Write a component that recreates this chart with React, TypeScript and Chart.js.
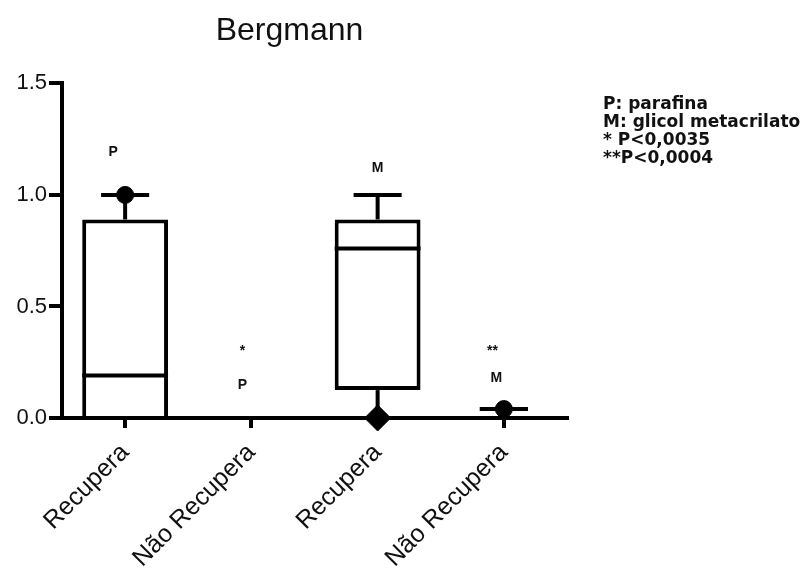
import React, { useEffect, useRef } from 'react';
import { Chart, registerables } from 'chart.js';

Chart.register(...registerables);

// ---- data ----
const categories = ['Recupera', 'Não Recupera', 'Recupera', 'Não Recupera'];
const whiskerLow = [0, 0, 0, 0.04];
const q1 = [0, 0, 0.125, 0.04];
const median = [0.19, 0, 0.76, 0.04];
const q3 = [0.89, 0, 0.89, 0.04];
const whiskerHigh = [1.0, 0, 1.0, 0.04];
const circleMarks = [1.0, null, null, 0.04];
const diamondMarks = [null, null, 0, null];
const yTickValues = [0, 0.5, 1.0, 1.5];

const noteText = ['P', '*', 'P', 'M', '**', 'M'];
const noteCategory = [0, 1, 1, 2, 3, 3];
const noteValue = [1.19, 0.3, 0.148, 1.12, 0.3, 0.18];
const legendLines = ['P: parafina', 'M: glicol metacrilato', '* P<0,0035', '**P<0,0004'];

const FONT = "'Liberation Sans', Arial, sans-serif";

const boxPlugin = {
  id: 'boxWhiskers',
  afterDatasetDraw(chart: any, args: any) {
    if (args.index !== 0) return;
    const { ctx } = chart;
    const y = chart.scales.y;
    const meta = chart.getDatasetMeta(0);
    ctx.save();
    ctx.strokeStyle = '#000';
    ctx.lineWidth = 4;
    ctx.lineCap = 'butt';
    const line = (x1: number, y1: number, x2: number, y2: number) => {
      ctx.beginPath();
      ctx.moveTo(x1, y1);
      ctx.lineTo(x2, y2);
      ctx.stroke();
    };
    meta.data.forEach((bar: any, i: number) => {
      const x = bar.x;
      const half = bar.width / 2;
      const capHalf = bar.width * 0.28;
      const yMed = y.getPixelForValue(median[i]);
      if (q3[i] > q1[i]) line(x - half, yMed, x + half, yMed);
      const yQ3 = y.getPixelForValue(q3[i]);
      const yHi = y.getPixelForValue(whiskerHigh[i]);
      line(x, yQ3, x, yHi);
      line(x - capHalf, yHi, x + capHalf, yHi);
      const yQ1 = y.getPixelForValue(q1[i]);
      const yLo = y.getPixelForValue(whiskerLow[i]);
      line(x, yQ1, x, yLo);
      line(x - capHalf, yLo, x + capHalf, yLo);
    });
    ctx.restore();
  },
};

const notesPlugin = {
  id: 'notes',
  afterDraw(chart: any, _args: any, opts: any) {
    const { ctx, chartArea } = chart;
    const x = chart.scales.x;
    const y = chart.scales.y;
    ctx.save();
    ctx.fillStyle = '#111';
    ctx.textAlign = 'center';
    ctx.textBaseline = 'middle';
    ctx.font = `bold 14px ${FONT}`;
    noteText.forEach((t, i) => {
      const px = x.getPixelForValue(noteCategory[i] + opts.shift[i]);
      const py = y.getPixelForValue(noteValue[i]);
      ctx.fillText(t, px, py);
    });
    ctx.textAlign = 'left';
    ctx.font = `bold 17px 'DejaVu Sans', ${FONT}`;
    legendLines.forEach((t, i) => {
      ctx.fillText(t, chartArea.right + 36, chartArea.top + 21 + i * 18);
    });
    ctx.restore();
  },
};

export default function App() {
  const ref = useRef<HTMLCanvasElement>(null);
  useEffect(() => {
    if (!ref.current) return;
    const chart = new Chart(ref.current, {
      type: 'bar',
      data: {
        labels: categories,
        datasets: [
          {
            type: 'bar',
            data: categories.map((_, i) => [q1[i], q3[i]]) as any,
            backgroundColor: '#fff',
            borderColor: '#000',
            borderWidth: 4,
            borderSkipped: ((c: any) => (q1[c.dataIndex] === 0 ? 'start' : false)) as any,
            barPercentage: 0.68,
            categoryPercentage: 1,
            order: 2,
          },
          {
            type: 'line',
            data: circleMarks as any,
            showLine: false,
            clip: false,
            pointStyle: 'circle',
            pointRadius: 8.5,
            pointBackgroundColor: '#000',
            pointBorderColor: '#000',
            order: 0,
          },
          {
            type: 'line',
            data: diamondMarks as any,
            showLine: false,
            clip: false,
            pointStyle: 'rectRot',
            pointRadius: 13,
            pointBackgroundColor: '#000',
            pointBorderColor: '#000',
            order: 0,
          },
        ],
      },
      options: {
        animation: false,
        responsive: true,
        maintainAspectRatio: false,
        events: [],
        layout: { padding: { left: 12, right: 239, top: 0, bottom: 0 } },
        plugins: {
          legend: { display: false },
          tooltip: { enabled: false },
          title: {
            display: true,
            text: 'Bergmann',
            color: '#111',
            font: { family: FONT, size: 32, weight: 'normal' },
            padding: { top: 12, bottom: 33 },
          },
          notes: { shift: [-0.095, -0.07, -0.07, 0, -0.09, -0.06] },
        } as any,
        scales: {
          x: {
            type: 'category',
            offset: true,
            grid: { display: true, drawOnChartArea: false, offset: false, color: '#000', lineWidth: 4, tickLength: 10 },
            border: { display: true, color: '#000', width: 4 },
            ticks: {
              color: '#111',
              font: { family: FONT, size: 25 },
              minRotation: 45,
              maxRotation: 45,
              autoSkip: false,
              padding: 10,
            },
            afterFit: (s: any) => { s.height = 154; },
          },
          y: {
            min: 0,
            max: 1.5,
            afterBuildTicks: (s: any) => { s.ticks = yTickValues.map((v) => ({ value: v })); },
            grid: { display: true, drawOnChartArea: false, color: '#000', lineWidth: 4, tickLength: 13 },
            border: { display: true, color: '#000', width: 4 },
            ticks: {
              color: '#111',
              font: { family: FONT, size: 22 },
              padding: 2,
              callback: (v: any) => Number(v).toFixed(1),
            },
            afterFit: (s: any) => { s.width = 50; },
          },
        },
      },
      plugins: [boxPlugin, notesPlugin],
    });
    return () => chart.destroy();
  }, []);
  return (
    <div style={{ position: 'absolute', left: 0, top: 0, width: 806, height: 572, background: '#fff' }}>
      <canvas ref={ref} />
    </div>
  );
}
